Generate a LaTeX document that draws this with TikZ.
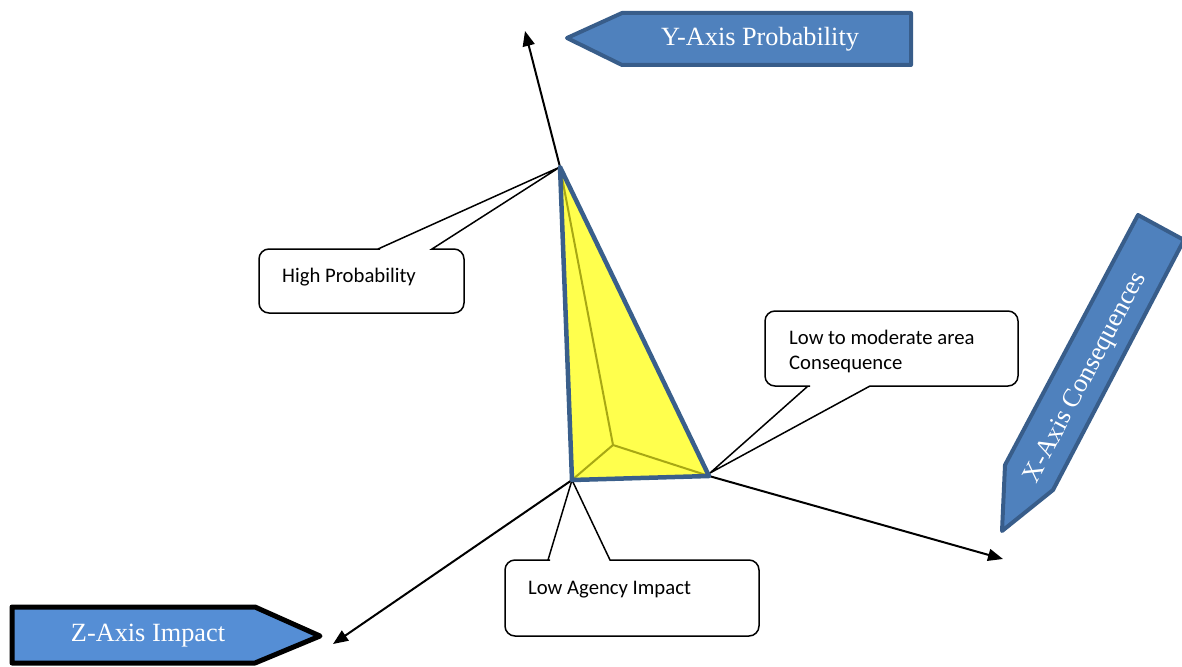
\documentclass[tikz,border=0pt]{standalone}
\usepackage{fontspec}
\setmainfont{Liberation Serif}
\newfontfamily\notefont{Carlito}
\usetikzlibrary{arrows.meta}

\definecolor{bannerfill}{RGB}{79,129,189}
\definecolor{bannerline}{RGB}{56,93,138}
\definecolor{zfill}{RGB}{85,142,213}
\definecolor{wedgefill}{RGB}{255,255,77}
\definecolor{wedgeline}{RGB}{58,95,139}
\definecolor{ridgeline}{RGB}{168,168,20}

\tikzstyle{axis} = [draw, line width=2pt, -{Triangle[length=15pt,width=12pt]}]
\tikzstyle{wedge} = [fill=wedgefill]
\tikzstyle{rim} = [draw=wedgeline, line width=4.5pt, line join=round]
\tikzstyle{ridge} = [draw=ridgeline, line width=2pt]
\tikzstyle{callout} = [draw, fill=white, line width=1.5pt]
\tikzstyle{note} = [font=\notefont\fontsize{20.7}{25}\selectfont, inner sep=0pt, align=left]
\tikzstyle{banner} = [fill=bannerfill, draw=bannerline, line width=4pt, line join=round]
\tikzstyle{bannertext} = [text=white, inner sep=0pt, font=\fontsize{26.3}{30}\selectfont]

\begin{document}
\begin{tikzpicture}[x=1pt,y=-1pt]
    \useasboundingbox (0,0) rectangle (1182,666);

    % corners of the wedge
    \coordinate (apex) at (560,167);
    \coordinate (origin) at (572,480);
    \coordinate (xcorner) at (709,476);
    \coordinate (inner) at (613,445);
    % axis ends
    \coordinate (yend) at (525,31);
    \coordinate (xend) at (1003,559);
    \coordinate (zend) at (333,644);

    % callouts (sharp at the pointer, rounded at the box corners)
    \draw [callout] (259,280) [rounded corners=10pt] -- (259,249) -- (370,249) [sharp corners] -- (378,249) -- (apex) -- (432,249) -- (440,249)
        [rounded corners=10pt] -- (464,249) -- (464,313) -- (259,313) -- cycle;
    \node [note, anchor=base west] (highprob) at (282,282) {High Probability};

    \draw [callout] (765,350) [rounded corners=10pt] -- (765,386) -- (800,386) [sharp corners] -- (808,386) -- (710,473) -- (870,386) -- (878,386)
        [rounded corners=10pt] -- (1018,386) -- (1018,311) -- (765,311) -- cycle;
    \node [note, anchor=north west] (lowmod) at (789,330) {Low to moderate area\\Consequence};

    \draw [callout] (505,600) [rounded corners=10pt] -- (505,560) -- (540,560) [sharp corners] -- (548,560) -- (origin) -- (610,560) -- (618,560)
        [rounded corners=10pt] -- (759,560) -- (759,636) -- (505,636) -- cycle;
    \node [note, anchor=base west] (lowagency) at (528,594) {Low Agency Impact};

    % axes
    \draw [axis] (apex) -- (yend);
    \draw [axis] (xcorner) -- (xend);
    \draw [axis] (origin) -- (zend);

    % the wedge
    \fill [wedge] (apex) -- (origin) -- (xcorner) -- cycle;
    \draw [ridge] (apex) -- (inner) -- (origin) (inner) -- (xcorner);
    \draw [rim] (apex) -- (origin) -- (xcorner) -- cycle;

    % axis banners
    \draw [banner] (567,38) -- (622,13) -- (911,13) -- (911,65) -- (622,65) -- cycle;
    \node [bannertext] (ylabel) at (760,39) {Y-Axis Probability};

    \draw [banner] (1002,531) -- (1005,465) -- (1138,215) -- (1184,240) -- (1053,490) -- cycle;
    \node [bannertext, rotate=62] (xlabel) at (1086,378) {X-Axis Consequences};

    \draw [banner, fill=zfill, draw=black, line width=5pt] (12,607) -- (255,607) -- (320,636) -- (255,663) -- (12,663) -- cycle;
    \node [bannertext] (zlabel) at (148,636) {Z-Axis Impact};
\end{tikzpicture}
\end{document}
